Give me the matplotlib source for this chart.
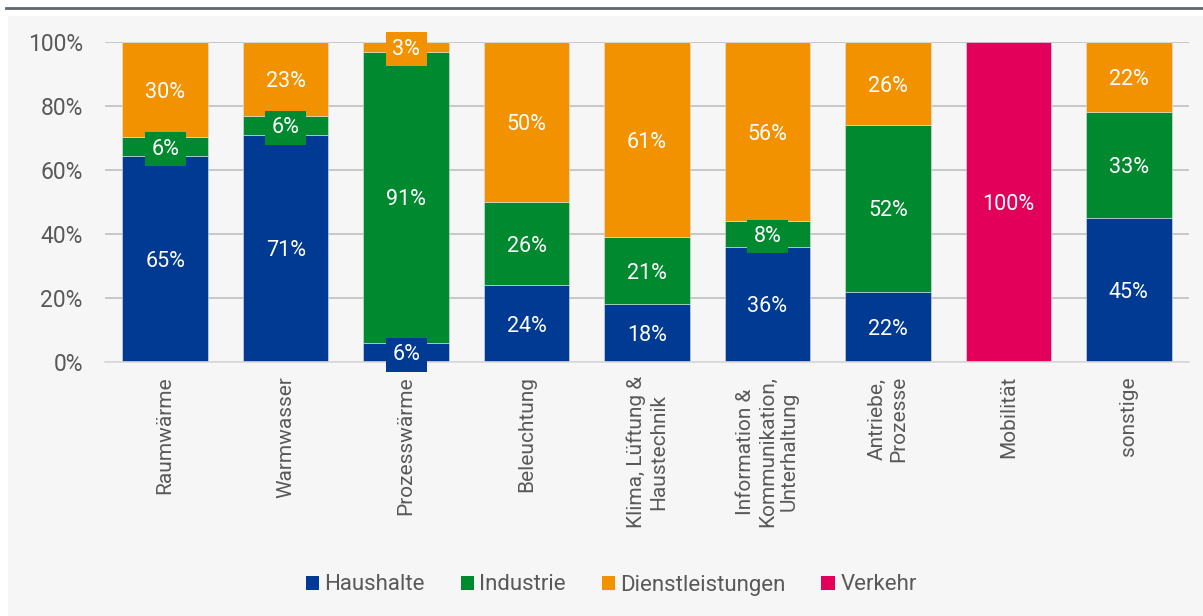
import matplotlib.pyplot as plt
import numpy as np
from matplotlib.patches import Rectangle, Patch
from matplotlib.lines import Line2D

categories = [
    "Raumwärme",
    "Warmwasser",
    "Prozesswärme",
    "Beleuchtung",
    "Klima, Lüftung &\nHaustechnik",
    "Information &\nKommunikation,\nUnterhaltung",
    "Antriebe,\nProzesse",
    "Mobilität",
    "sonstige",
]
series_names = ["Haushalte", "Industrie", "Dienstleistungen", "Verkehr"]
haushalte = [65, 71, 6, 24, 18, 36, 22, 0, 45]
industrie = [6, 6, 91, 26, 21, 8, 52, 0, 33]
dienstleistungen = [30, 23, 3, 50, 61, 56, 26, 0, 22]
verkehr = [0, 0, 0, 0, 0, 0, 0, 100, 0]
colors = ["#003a93", "#00892f", "#f39200", "#e3005a"]

plt.rcParams["font.family"] = ["Roboto", "DejaVu Sans"]
TEXT = "#595959"

fig = plt.figure(figsize=(12.03, 6.16), dpi=100)
W, H = 1203, 616
# light panel and top rule
fig.patches.append(Rectangle((8 / W, 0), 1 - 8 / W, 1 - 16 / H, transform=fig.transFigure,
                             facecolor="#f6f6f6", edgecolor="none", zorder=-10))
fig.lines.append(Line2D([6 / W, 1], [1 - 8 / H, 1 - 8 / H], transform=fig.transFigure,
                        color="#5f6670", lw=2, zorder=-10))

ax = fig.add_axes([105 / W, 1 - 362 / H, (1189 - 105) / W, 320 / H])
ax.set_facecolor("none")

data = np.array([haushalte, industrie, dienstleistungen, verkehr], dtype=float)
shares = data / data.sum(axis=0) * 100
x = np.arange(len(categories))
bottom = np.zeros(len(categories))
for i, name in enumerate(series_names):
    ax.bar(x, shares[i], 0.71, bottom=bottom, color=colors[i], label=name,
           edgecolor="#dfe3ea", linewidth=0.4, zorder=2)
    for j in range(len(categories)):
        if data[i, j] <= 0:
            continue
        yc = bottom[j] + shares[i, j] / 2
        txt = "%d%%" % data[i, j]
        if data[i, j] < 10:
            ax.text(x[j], yc, txt, ha="center", va="center_baseline", color="white",
                    fontsize=15.5, zorder=4,
                    bbox=dict(boxstyle="square,pad=0.3", facecolor=colors[i], edgecolor="none"))
        else:
            ax.text(x[j], yc, txt, ha="center", va="center_baseline", color="white",
                    fontsize=15.5, zorder=4)
    bottom += shares[i]

ax.set_xlim(-0.5, len(categories) - 0.5)
ax.set_ylim(0, 100)
ax.set_yticks(np.arange(0, 101, 20))
ax.set_yticklabels(["%d%%" % v for v in range(0, 101, 20)], fontsize=16.5)
ax.set_xticks(x)
ax.set_xticklabels(categories, rotation=90, va="top", ha="center", multialignment="center",
                   fontsize=15)
ax.tick_params(axis="both", length=0, colors=TEXT)
ax.tick_params(axis="x", pad=10)
ax.tick_params(axis="y", pad=16)
ax.grid(axis="y", color="#bfbfbf", lw=1.2, zorder=0)
ax.set_axisbelow(True)
for s in ["top", "right", "left"]:
    ax.spines[s].set_visible(False)
ax.spines["bottom"].set_color("#d9d9d9")
ax.spines["bottom"].set_linewidth(1.2)

handles = [Patch(facecolor=c, edgecolor="none") for c in colors]
fig.legend(handles, series_names, loc="center", bbox_to_anchor=(0.508, 1 - 585 / H),
           ncol=4, frameon=False, fontsize=16, labelcolor=TEXT, handlelength=0.6,
           handleheight=0.6, handletextpad=0.25, columnspacing=1.6)

fig.savefig("out.png", dpi=100)
